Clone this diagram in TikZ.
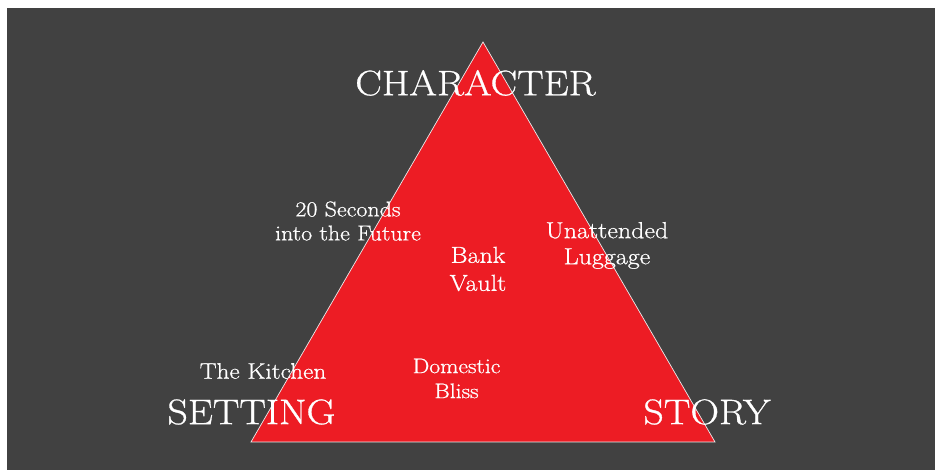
\documentclass[tikz,border=0pt]{standalone}
\usepackage{fontspec}
\setmainfont{Latin Modern Roman}[FakeStretch=1.12,FakeBold=0.8]
\begin{document}
\begin{tikzpicture}[x=1pt,y=1pt,
  lbl/.style={text=white, inner sep=0pt, align=center},
  big/.style={lbl, font=\fontsize{35.5}{40}\selectfont},
]
\definecolor{bg}{HTML}{414141}
\definecolor{tri}{HTML}{ED1C24}
\useasboundingbox (0,0) rectangle (935,470);
\fill[white] (0,0) rectangle (935,470);
\fill[bg] (7,0) rectangle (935,462);
\coordinate (apex) at (483,428);
\coordinate (bl) at (251,28);
\coordinate (br) at (715,28);
\filldraw[fill=tri, draw=white!85!gray, line width=0.7pt] (apex) -- (br) -- (bl) -- cycle;
\node[big] (character) at (475.5,387) {CHARACTER};
\node[big] (setting) at (251.5,58) {SETTING};
\node[big] (story) at (707,58) {STORY};
\node[lbl, font=\fontsize{21.4}{24}\selectfont] (future) at (348,249) {20 Seconds\\into the Future};
\node[lbl, font=\fontsize{23.2}{26}\selectfont] (luggage) at (607,224.5) {Unattended\\Luggage};
\node[lbl, font=\fontsize{23.1}{28}\selectfont] (vault) at (478,201) {Bank\\Vault};
\node[lbl, font=\fontsize{21.1}{25}\selectfont] (bliss) at (456.5,91.5) {Domestic\\Bliss};
\node[lbl, font=\fontsize{22.5}{26}\selectfont] (kitchen) at (263,99) {The Kitchen};
\end{tikzpicture}
\end{document}
